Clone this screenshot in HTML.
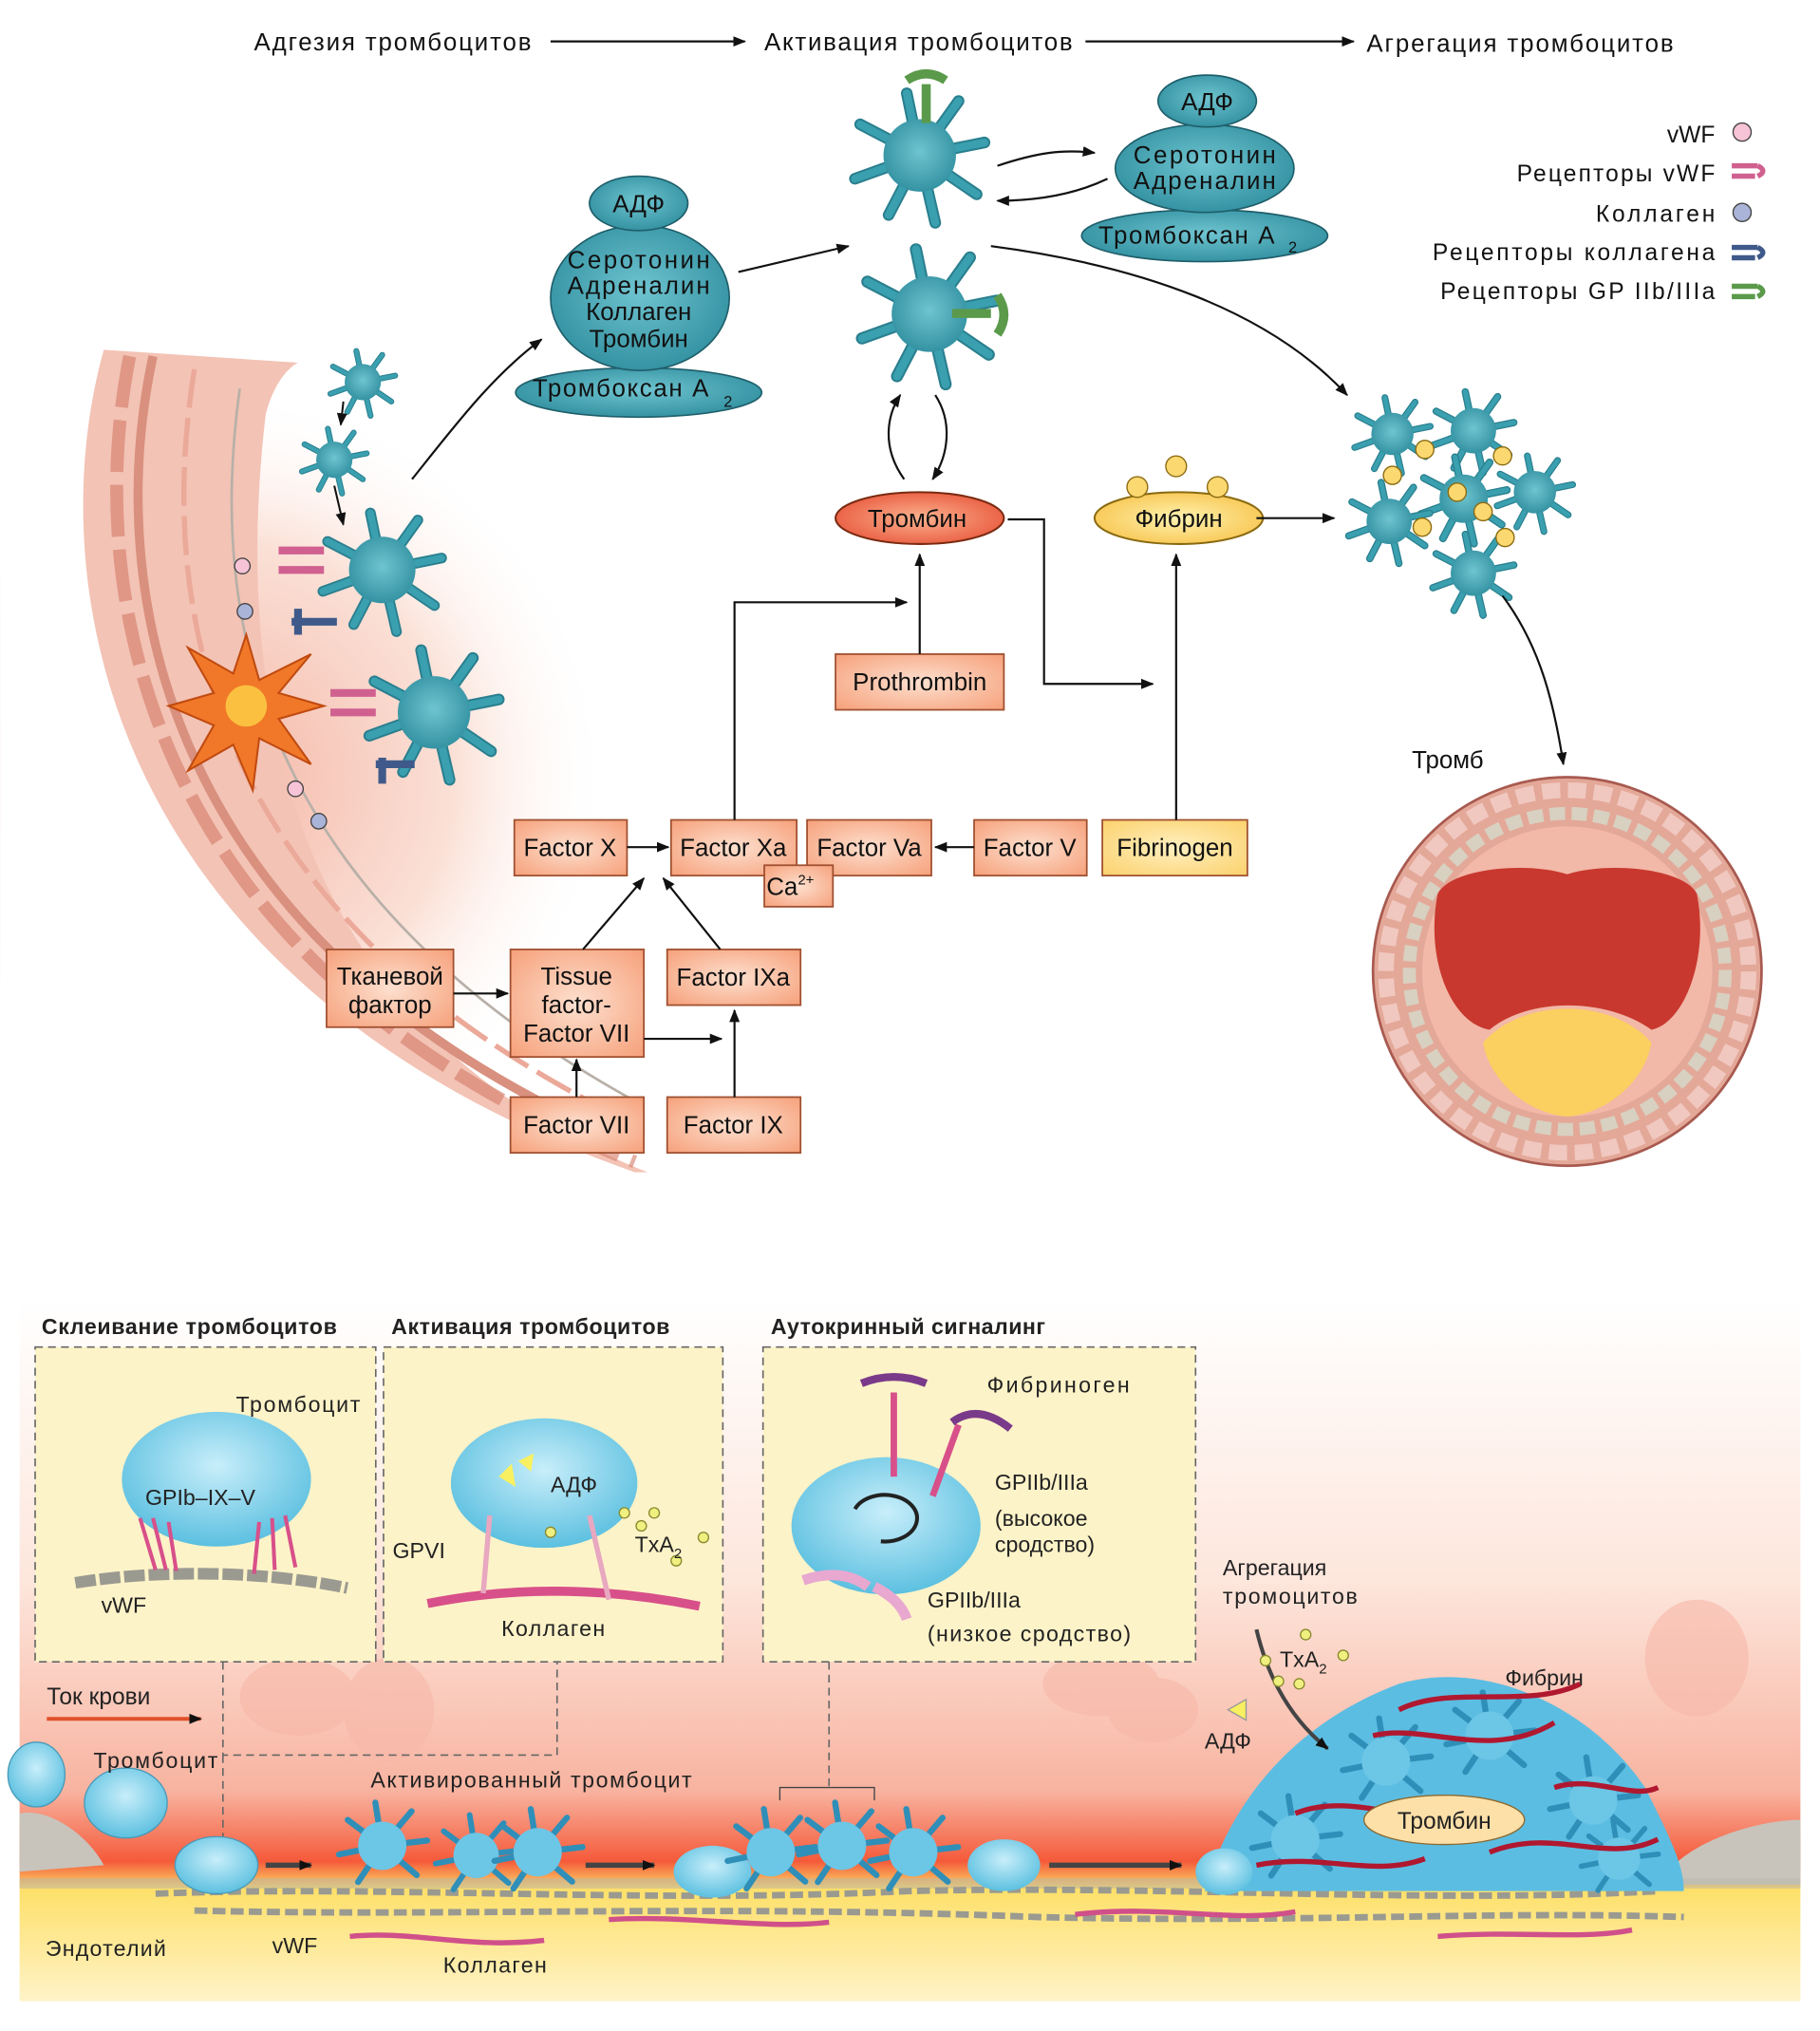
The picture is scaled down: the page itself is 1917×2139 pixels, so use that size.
<!DOCTYPE html>
<html><head><meta charset="utf-8"><style>
html,body{margin:0;padding:0;background:#fff;}
svg{display:block;}
text{font-family:"Liberation Sans",sans-serif;}
</style></head><body>
<svg width="1917" height="2139" viewBox="0 0 1405 1568" xmlns="http://www.w3.org/2000/svg">
<defs>
<marker id="ar" markerWidth="10" markerHeight="8" refX="9" refY="4" orient="auto" markerUnits="userSpaceOnUse"><path d="M0,0 L10,4 L0,8 z" fill="#111"/></marker>
<radialGradient id="teal" cx="50%" cy="45%" r="60%"><stop offset="0" stop-color="#6fc4d0"/><stop offset="1" stop-color="#2f8e9e"/></radialGradient>
<radialGradient id="box" cx="50%" cy="50%" r="70%"><stop offset="0" stop-color="#fde0cf"/><stop offset="1" stop-color="#f6a07a"/></radialGradient>
<radialGradient id="ybox" cx="50%" cy="50%" r="70%"><stop offset="0" stop-color="#fff0c0"/><stop offset="1" stop-color="#fbd16c"/></radialGradient>
<radialGradient id="thr" cx="50%" cy="50%" r="60%"><stop offset="0" stop-color="#fbb28e"/><stop offset="1" stop-color="#e8543a"/></radialGradient>
<radialGradient id="fib" cx="50%" cy="50%" r="60%"><stop offset="0" stop-color="#fff3b0"/><stop offset="1" stop-color="#f7c24a"/></radialGradient>
<radialGradient id="glow" cx="170" cy="600" r="300" gradientUnits="userSpaceOnUse"><stop offset="0" stop-color="#f4b8a8"/><stop offset="0.6" stop-color="#fbe0d6"/><stop offset="1" stop-color="#fff" stop-opacity="0"/></radialGradient>
<linearGradient id="bot" x1="0" y1="0" x2="0" y2="1"><stop offset="0" stop-color="#fff"/><stop offset="0.4" stop-color="#fde6dc"/><stop offset="0.7" stop-color="#f8b3a0"/><stop offset="0.8" stop-color="#f55a3a"/><stop offset="0.84" stop-color="#fde06a"/><stop offset="1" stop-color="#fff3c8"/></linearGradient>
<radialGradient id="bl" cx="50%" cy="40%" r="60%"><stop offset="0" stop-color="#c8eefa"/><stop offset="1" stop-color="#5cc0e0"/></radialGradient>
<symbol id="pl" viewBox="-60 -60 120 120">
<g stroke="#2a7f8e" stroke-width="9" stroke-linecap="round" fill="none">
<path d="M0,0 L-10,-48"/><path d="M0,0 L30,-42"/><path d="M0,0 L50,-10"/><path d="M0,0 L44,30"/><path d="M0,0 L12,52"/><path d="M0,0 L-24,46"/><path d="M0,0 L-50,18"/><path d="M0,0 L-46,-24"/>
</g>
<g stroke="#3aa0b0" stroke-width="6" stroke-linecap="round" fill="none">
<path d="M0,0 L-10,-48"/><path d="M0,0 L30,-42"/><path d="M0,0 L50,-10"/><path d="M0,0 L44,30"/><path d="M0,0 L12,52"/><path d="M0,0 L-24,46"/><path d="M0,0 L-50,18"/><path d="M0,0 L-46,-24"/>
</g>
<circle r="28" fill="url(#teal)"/>
</symbol>
<symbol id="bp" viewBox="-60 -60 120 120">
<g stroke="#2f8fb8" stroke-width="7" stroke-linecap="round" fill="none">
<path d="M0,0 L-8,-50"/><path d="M0,0 L34,-40"/><path d="M0,0 L52,-6"/><path d="M0,0 L40,34"/><path d="M0,0 L-28,42"/><path d="M0,0 L-50,10"/><path d="M0,0 L-40,-30"/>
</g>
<circle r="28" fill="#6cc6e6"/>
</symbol>
</defs>

<g font-size="19" fill="#111">
<text x="196" y="39" textLength="214">Адгезия тромбоцитов</text>
<text x="590" y="39" textLength="238">Активация тромбоцитов</text>
<text x="1055" y="40" textLength="237">Агрегация тромбоцитов</text>
</g>
<line x1="425" y1="32" x2="575" y2="32" stroke="#111" stroke-width="1.6" marker-end="url(#ar)"/>
<line x1="838" y1="32" x2="1045" y2="32" stroke="#111" stroke-width="1.6" marker-end="url(#ar)"/>

<g font-size="18" fill="#111">
<text x="1287" y="110" textLength="37">vWF</text>
<text x="1171" y="140" textLength="153">Рецепторы vWF</text>
<text x="1232" y="171" textLength="92">Коллаген</text>
<text x="1106" y="201" textLength="218">Рецепторы коллагена</text>
<text x="1112" y="231" textLength="212">Рецепторы GP IIb/IIIa</text>
</g>
<circle cx="1345" cy="102" r="7" fill="#f7c3d6" stroke="#444"/>
<path d="M1337,128 h20 M1357,128 q8,4 0,8 M1337,136 h18" stroke="#d06090" stroke-width="4" fill="none"/>
<circle cx="1345" cy="164" r="7" fill="#aab4d8" stroke="#444"/>
<path d="M1337,191 h20 M1357,191 q8,4 0,8 M1337,199 h18" stroke="#3f5a8a" stroke-width="4" fill="none"/>
<path d="M1337,221 h20 M1357,221 q8,4 0,8 M1337,229 h18" stroke="#5a9a4a" stroke-width="4" fill="none"/>

<!-- Vessel wall arc -->
<ellipse cx="170" cy="600" rx="300" ry="320" fill="url(#glow)"/>
<path d="M0,240 L82,268 C30,450 80,760 490,905 L490,910 L0,910 Z" fill="#fff"/>
<path d="M80,270 C30,450 80,760 490,905 L500,905 C280,820 170,620 205,320 C210,300 220,285 230,280 Z" fill="#f3c3b5"/>
<path d="M118,275 C80,450 120,730 490,885" stroke="#d9907e" stroke-width="7" fill="none"/>
<path d="M100,275 C65,450 105,745 490,897" stroke="#d47a68" stroke-width="10" fill="none" stroke-dasharray="40 10" opacity="0.6"/>
<path d="M150,285 C120,470 160,710 490,868" stroke="#eba999" stroke-width="4" fill="none" stroke-dasharray="30 8"/>
<path d="M185,300 C160,480 200,690 490,850" stroke="#b8b0a8" stroke-width="2" fill="none"/>
<polygon points="190,490 200,525 240,505 215,535 250,545 215,555 240,590 200,570 195,610 180,575 145,595 165,560 130,545 165,535 145,500 180,520" fill="#f07828" stroke="#c04a10" stroke-width="1.5"/>
<circle cx="190" cy="545" r="16" fill="#fbc040"/>
<circle cx="187" cy="437" r="6" fill="#f7c3d6" stroke="#444"/>
<circle cx="189" cy="472" r="6" fill="#aab4d8" stroke="#444"/>
<circle cx="228" cy="609" r="6" fill="#f7c3d6" stroke="#444"/>
<circle cx="246" cy="634" r="6" fill="#aab4d8" stroke="#444"/>

<use href="#pl" x="250" y="265" width="60" height="60"/>
<use href="#pl" x="228" y="325" width="60" height="60"/>
<use href="#pl" x="240" y="385" width="110" height="110"/>
<use href="#pl" x="275" y="490" width="120" height="120"/>
<path d="M215,425 h35 M215,440 h35" stroke="#d06090" stroke-width="6"/>
<path d="M225,480 h35 M230,470 v20" stroke="#3f5a8a" stroke-width="6"/>
<path d="M255,535 h35 M255,550 h35" stroke="#d06090" stroke-width="6"/>
<path d="M290,590 h30 M295,585 v20" stroke="#3f5a8a" stroke-width="6"/>
<line x1="265" y1="310" x2="263" y2="328" stroke="#111" stroke-width="1.5" marker-end="url(#ar)"/>
<line x1="258" y1="375" x2="265" y2="405" stroke="#111" stroke-width="1.5" marker-end="url(#ar)"/>
<path d="M318,370 C350,330 380,290 418,262" stroke="#111" stroke-width="1.6" fill="none" marker-end="url(#ar)"/>

<g stroke="#1f5e6a" stroke-width="1.2">
<ellipse cx="493" cy="303" rx="95" ry="19" fill="url(#teal)"/>
<ellipse cx="494" cy="230" rx="69" ry="56" fill="url(#teal)"/>
<ellipse cx="493" cy="157" rx="38" ry="21" fill="url(#teal)"/>
</g>
<g font-size="19" fill="#111" text-anchor="middle">
<text x="493" y="164">АДФ</text>
<text x="493" y="207" textLength="110">Серотонин</text>
<text x="493" y="227" textLength="110">Адреналин</text>
<text x="493" y="247">Коллаген</text>
<text x="493" y="268">Тромбин</text>
<text x="479" y="306" textLength="136">Тромбоксан А</text><text x="562" y="314" font-size="12">2</text>
</g>
<line x1="570" y1="210" x2="655" y2="190" stroke="#111" stroke-width="1.6" marker-end="url(#ar)"/>

<g stroke="#1f5e6a" stroke-width="1.2">
<ellipse cx="930" cy="182" rx="95" ry="20" fill="url(#teal)"/>
<ellipse cx="930" cy="130" rx="69" ry="34" fill="url(#teal)"/>
<ellipse cx="932" cy="78" rx="38" ry="20" fill="url(#teal)"/>
</g>
<g font-size="19" fill="#111" text-anchor="middle">
<text x="932" y="85">АДФ</text>
<text x="930" y="126" textLength="110">Серотонин</text>
<text x="930" y="146" textLength="110">Адреналин</text>
<text x="916" y="188" textLength="136">Тромбоксан А</text><text x="998" y="195" font-size="12">2</text>
</g>
<use href="#pl" x="650" y="60" width="120" height="120"/>
<use href="#pl" x="655" y="180" width="125" height="125"/>
<path d="M715,95 v-30 M700,62 q15,-10 30,0" stroke="#5a9a4a" stroke-width="7" fill="none"/>
<path d="M735,242 h30 M770,228 q10,15 0,30" stroke="#5a9a4a" stroke-width="7" fill="none"/>
<path d="M770,128 C800,118 820,115 845,118" stroke="#111" stroke-width="1.6" fill="none" marker-end="url(#ar)"/>
<path d="M855,138 C830,150 800,155 770,155" stroke="#111" stroke-width="1.6" fill="none" marker-end="url(#ar)"/>
<path d="M765,190 C880,205 980,240 1040,305" stroke="#111" stroke-width="1.6" fill="none" marker-end="url(#ar)"/>
<path d="M698,370 C680,345 685,320 695,305" stroke="#111" stroke-width="1.6" fill="none" marker-end="url(#ar)"/>
<path d="M722,305 C735,325 733,350 720,370" stroke="#111" stroke-width="1.6" fill="none" marker-end="url(#ar)"/>

<ellipse cx="710" cy="400" rx="65" ry="20" fill="url(#thr)" stroke="#7a2a10" stroke-width="1.5"/>
<text x="708" y="407" font-size="19" text-anchor="middle" fill="#111">Тромбин</text>
<ellipse cx="910" cy="400" rx="65" ry="20" fill="url(#fib)" stroke="#8a6a10" stroke-width="1.5"/>
<circle cx="878" cy="376" r="8" fill="#fbd870" stroke="#8a6a10"/>
<circle cx="908" cy="360" r="8" fill="#fbd870" stroke="#8a6a10"/>
<circle cx="940" cy="376" r="8" fill="#fbd870" stroke="#8a6a10"/>
<text x="910" y="407" font-size="19" text-anchor="middle" fill="#111">Фибрин</text>
<line x1="970" y1="400" x2="1030" y2="400" stroke="#111" stroke-width="1.6" marker-end="url(#ar)"/>

<g>
<use href="#pl" x="1040" y="300" width="70" height="70"/>
<use href="#pl" x="1100" y="295" width="75" height="75"/>
<use href="#pl" x="1090" y="345" width="80" height="80"/>
<use href="#pl" x="1150" y="345" width="70" height="70"/>
<use href="#pl" x="1035" y="365" width="75" height="75"/>
<use href="#pl" x="1100" y="405" width="75" height="75"/>
<g fill="#fbd870" stroke="#8a6a10">
<circle cx="1100" cy="347" r="7"/><circle cx="1160" cy="352" r="7"/><circle cx="1075" cy="367" r="7"/><circle cx="1145" cy="395" r="7"/><circle cx="1098" cy="407" r="7"/><circle cx="1162" cy="415" r="7"/><circle cx="1125" cy="380" r="7"/>
</g>
</g>
<path d="M1160,460 C1190,500 1200,545 1207,590" stroke="#111" stroke-width="1.6" fill="none" marker-end="url(#ar)"/>
<text x="1090" y="593" font-size="19" fill="#111">Тромб</text>

<circle cx="1210" cy="750" r="150" fill="#e4a898" stroke="#a85a50" stroke-width="2"/>
<circle cx="1210" cy="750" r="140" fill="none" stroke="#f0c8c0" stroke-width="12" stroke-dasharray="14 6"/>
<circle cx="1210" cy="750" r="122" fill="none" stroke="#d8d0c0" stroke-width="10" stroke-dasharray="12 5"/>
<circle cx="1210" cy="750" r="112" fill="#f2b8a8"/>
<path d="M1110,690 C1120,670 1180,665 1210,675 C1240,665 1300,670 1310,690 C1320,740 1300,790 1275,795 C1240,770 1180,770 1150,795 C1120,790 1100,740 1110,690 Z" fill="#c8382e"/>
<path d="M1145,805 C1175,770 1245,770 1275,805 C1270,835 1240,860 1210,862 C1180,860 1150,835 1145,805 Z" fill="#fbd060"/>

<g stroke="#a05030" stroke-width="1.3">
<rect x="645" y="505" width="130" height="43" fill="url(#box)"/>
<rect x="397" y="633" width="87" height="43" fill="url(#box)"/>
<rect x="518" y="633" width="97" height="43" fill="url(#box)"/>
<rect x="623" y="633" width="96" height="43" fill="url(#box)"/>
<rect x="590" y="668" width="53" height="32" fill="url(#box)"/>
<rect x="752" y="633" width="87" height="43" fill="url(#box)"/>
<rect x="851" y="633" width="112" height="43" fill="url(#ybox)"/>
<rect x="252" y="733" width="98" height="60" fill="url(#box)"/>
<rect x="394" y="733" width="103" height="83" fill="url(#box)"/>
<rect x="515" y="733" width="103" height="43" fill="url(#box)"/>
<rect x="394" y="847" width="103" height="43" fill="url(#box)"/>
<rect x="515" y="847" width="103" height="43" fill="url(#box)"/>
</g>
<g font-size="19" fill="#111" text-anchor="middle">
<text x="710" y="533">Prothrombin</text>
<text x="440" y="661">Factor X</text>
<text x="566" y="661">Factor Xa</text>
<text x="671" y="661">Factor Va</text>
<text x="610" y="691">Ca<tspan font-size="11" dy="-8">2+</tspan></text>
<text x="795" y="661">Factor V</text>
<text x="907" y="661">Fibrinogen</text>
<text x="301" y="760">Тканевой</text>
<text x="301" y="782">фактор</text>
<text x="445" y="760">Tissue</text>
<text x="445" y="782">factor-</text>
<text x="445" y="804">Factor VII</text>
<text x="566" y="761">Factor IXa</text>
<text x="445" y="875">Factor VII</text>
<text x="566" y="875">Factor IX</text>
</g>
<g stroke="#111" stroke-width="1.6" fill="none">
<line x1="710" y1="505" x2="710" y2="428" marker-end="url(#ar)"/>
<polyline points="567,633 567,465 700,465" marker-end="url(#ar)"/>
<polyline points="778,401 806,401 806,528 890,528" marker-end="url(#ar)"/>
<line x1="908" y1="633" x2="908" y2="428" marker-end="url(#ar)"/>
<line x1="484" y1="654" x2="516" y2="654" marker-end="url(#ar)"/>
<line x1="752" y1="654" x2="722" y2="654" marker-end="url(#ar)"/>
<line x1="450" y1="733" x2="497" y2="678" marker-end="url(#ar)"/>
<line x1="556" y1="733" x2="512" y2="678" marker-end="url(#ar)"/>
<line x1="350" y1="767" x2="392" y2="767" marker-end="url(#ar)"/>
<line x1="497" y1="802" x2="557" y2="802" marker-end="url(#ar)"/>
<line x1="445" y1="847" x2="445" y2="818" marker-end="url(#ar)"/>
<line x1="567" y1="847" x2="567" y2="780" marker-end="url(#ar)"/>
</g>

<!-- Bottom panel -->
<rect x="15" y="1005" width="1375" height="540" fill="url(#bot)"/>
<g fill="#f7b8a8" opacity="0.6">
<ellipse cx="230" cy="1310" rx="45" ry="30"/><ellipse cx="300" cy="1320" rx="35" ry="40"/>
<ellipse cx="850" cy="1300" rx="45" ry="25"/><ellipse cx="890" cy="1320" rx="35" ry="25"/>
<ellipse cx="1310" cy="1280" rx="40" ry="45"/>
</g>
<path d="M15,1400 C40,1395 70,1420 80,1440 L15,1445 Z" fill="#c8c4bc"/>
<path d="M1390,1405 C1360,1405 1300,1420 1280,1455 L1390,1455 Z" fill="#c8c4bc"/>
<rect x="15" y="1450" width="1375" height="8" fill="#b8b6a8" opacity="0.5"/>
<g stroke="#9a9a90" stroke-width="5" stroke-dasharray="10 4" fill="none">
<path d="M120,1462 C300,1455 500,1470 700,1460 C900,1455 1100,1470 1280,1460"/>
<path d="M150,1475 C350,1480 550,1470 800,1480 C1000,1485 1150,1475 1300,1480"/>
</g>
<g stroke="#d0508a" stroke-width="4" fill="none">
<path d="M270,1495 C320,1490 360,1505 420,1498"/>
<path d="M470,1482 C530,1478 590,1490 640,1484"/>
<path d="M830,1478 C900,1470 950,1485 1000,1476"/>
<path d="M1110,1495 C1170,1490 1220,1498 1260,1490"/>
</g>

<g fill="#fdf3c8" stroke="#666" stroke-width="1.2" stroke-dasharray="6 4">
<rect x="27" y="1040" width="263" height="243"/>
<rect x="296" y="1040" width="262" height="243"/>
<rect x="589" y="1040" width="334" height="243"/>
</g>
<g stroke="#666" stroke-width="1.2" stroke-dasharray="6 4" fill="none">
<polyline points="172,1283 172,1355 430,1355 430,1283"/>
<line x1="640" y1="1283" x2="640" y2="1380"/>
<line x1="172" y1="1355" x2="172" y2="1418"/>
</g>
<g font-size="17" font-weight="bold" fill="#222">
<text x="32" y="1030" textLength="228">Склеивание тромбоцитов</text>
<text x="302" y="1030" textLength="215">Активация тромбоцитов</text>
<text x="595" y="1030" textLength="212">Аутокринный сигналинг</text>
</g>
<ellipse cx="167" cy="1142" rx="73" ry="52" fill="url(#bl)"/>
<path d="M58,1222 C120,1212 200,1212 268,1226" stroke="#9a9a90" stroke-width="9" stroke-dasharray="16 3" fill="none"/>
<g stroke="#d8508a" stroke-width="3" fill="none"><path d="M108,1172 l12,40 M118,1172 l10,40 M130,1175 l6,38"/><path d="M200,1175 l-4,40 M210,1172 l2,40 M220,1170 l8,40"/></g>
<g font-size="17" fill="#222"><text x="182" y="1090" textLength="96">Тромбоцит</text><text x="112" y="1162">GPIb–IX–V</text><text x="78" y="1245">vWF</text></g>
<ellipse cx="420" cy="1145" rx="72" ry="50" fill="url(#bl)"/>
<path d="M330,1238 C380,1228 450,1222 540,1240" stroke="#d8508a" stroke-width="7" fill="none"/>
<path d="M378,1170 l-5,60 M455,1170 l15,65" stroke="#e8a8c0" stroke-width="4" fill="none"/>
<polygon points="385,1140 395,1130 398,1148" fill="#f8f060"/><polygon points="400,1128 412,1122 410,1136" fill="#f8f060"/>
<g fill="#f0f080" stroke="#8a8a30"><circle cx="425" cy="1183" r="4"/><circle cx="482" cy="1168" r="4"/><circle cx="495" cy="1178" r="4"/><circle cx="505" cy="1168" r="4"/><circle cx="522" cy="1205" r="4"/><circle cx="543" cy="1187" r="4"/></g>
<g font-size="17" fill="#222"><text x="425" y="1152">АДФ</text><text x="490" y="1198">TxA<tspan font-size="11" dy="5">2</tspan></text><text x="303" y="1203">GPVI</text><text x="387" y="1263" textLength="80">Коллаген</text></g>
<ellipse cx="684" cy="1178" rx="73" ry="53" fill="url(#bl)"/>
<path d="M660,1165 a25,18 0 1 1 20,25" stroke="#222" stroke-width="3" fill="none"/>
<path d="M690,1075 v65 M740,1100 l-20,55" stroke="#d8508a" stroke-width="5" fill="none"/>
<path d="M665,1068 q25,-10 50,0 M735,1098 q20,-15 45,5" stroke="#7a3a8a" stroke-width="6" fill="none"/>
<path d="M620,1220 q30,-10 50,5 M675,1225 q20,10 25,25" stroke="#e8a8d0" stroke-width="8" fill="none"/>
<g font-size="17" fill="#222"><text x="762" y="1075" textLength="110">Фибриноген</text><text x="768" y="1150">GPIIb/IIIa</text><text x="768" y="1178">(высокое</text><text x="768" y="1198">сродство)</text><text x="716" y="1241">GPIIb/IIIa</text><text x="716" y="1267" textLength="157">(низкое сродство)</text></g>

<text x="36" y="1316" font-size="18" fill="#222">Ток крови</text>
<line x1="36" y1="1327" x2="155" y2="1327" stroke="#e0502a" stroke-width="3" marker-end="url(#ar)"/>
<ellipse cx="28" cy="1370" rx="22" ry="25" fill="url(#bl)" stroke="#4a9ab8"/>
<ellipse cx="97" cy="1392" rx="32" ry="27" fill="url(#bl)" stroke="#4a9ab8"/>
<ellipse cx="167" cy="1440" rx="32" ry="22" fill="url(#bl)" stroke="#4a9ab8"/>
<g font-size="17" fill="#222"><text x="72" y="1365" textLength="96">Тромбоцит</text><text x="286" y="1380" textLength="248">Активированный тромбоцит</text><text x="35" y="1510" textLength="93">Эндотелий</text><text x="210" y="1508">vWF</text><text x="342" y="1523" textLength="80">Коллаген</text><text x="944" y="1216">Агрегация</text><text x="944" y="1238" textLength="104">тромоцитов</text><text x="988" y="1287">TxA<tspan font-size="11" dy="5">2</tspan></text><text x="930" y="1350">АДФ</text><text x="1162" y="1301">Фибрин</text></g>
<line x1="205" y1="1440" x2="240" y2="1440" stroke="#444" stroke-width="4" marker-end="url(#ar)"/>
<line x1="452" y1="1440" x2="505" y2="1440" stroke="#444" stroke-width="4" marker-end="url(#ar)"/>
<line x1="810" y1="1440" x2="912" y2="1440" stroke="#444" stroke-width="4" marker-end="url(#ar)"/>
<use href="#bp" x="255" y="1385" width="80" height="80"/>
<use href="#bp" x="330" y="1395" width="75" height="75"/>
<use href="#bp" x="375" y="1390" width="80" height="80"/>
<ellipse cx="550" cy="1445" rx="30" ry="20" fill="url(#bl)"/>
<use href="#bp" x="555" y="1390" width="80" height="80"/>
<use href="#bp" x="610" y="1385" width="80" height="80"/>
<use href="#bp" x="665" y="1390" width="80" height="80"/>
<ellipse cx="775" cy="1440" rx="28" ry="20" fill="url(#bl)"/>
<path d="M602,1390 v-10 h73 v10" stroke="#444" fill="none"/>
<path d="M930,1460 C950,1390 1000,1330 1080,1300 C1150,1280 1230,1320 1270,1380 C1290,1420 1300,1440 1300,1460 Z" fill="#5cbde2"/>
<use href="#bp" x="960" y="1380" width="80" height="80"/><use href="#bp" x="1030" y="1320" width="80" height="80"/><use href="#bp" x="1110" y="1300" width="80" height="80"/><use href="#bp" x="1190" y="1350" width="80" height="80"/><use href="#bp" x="1210" y="1400" width="80" height="70"/>
<g stroke="#b01830" stroke-width="4" fill="none">
<path d="M1000,1400 C1050,1380 1100,1420 1150,1390"/><path d="M1060,1340 C1100,1330 1150,1360 1200,1330"/><path d="M1150,1430 C1200,1410 1240,1440 1280,1420"/><path d="M970,1440 C1020,1430 1060,1450 1100,1435"/><path d="M1080,1320 C1120,1300 1180,1320 1220,1300"/><path d="M1200,1380 C1230,1370 1260,1390 1280,1380"/>
</g>
<ellipse cx="945" cy="1445" rx="22" ry="18" fill="url(#bl)"/>
<ellipse cx="1115" cy="1405" rx="62" ry="19" fill="#fde0a8" stroke="#8a6a30"/>
<text x="1115" y="1412" font-size="18" text-anchor="middle" fill="#222">Тромбин</text>
<path d="M970,1258 C980,1300 1000,1330 1025,1350" stroke="#444" stroke-width="3" fill="none" marker-end="url(#ar)"/>
<polygon points="948,1320 962,1312 962,1328" fill="#f8f060" stroke="#999"/>
<g fill="#f0f080" stroke="#8a8a30"><circle cx="977" cy="1282" r="4"/><circle cx="1008" cy="1262" r="4"/><circle cx="987" cy="1298" r="4"/><circle cx="1003" cy="1300" r="4"/><circle cx="1037" cy="1278" r="4"/></g>
</svg>
</body></html>
